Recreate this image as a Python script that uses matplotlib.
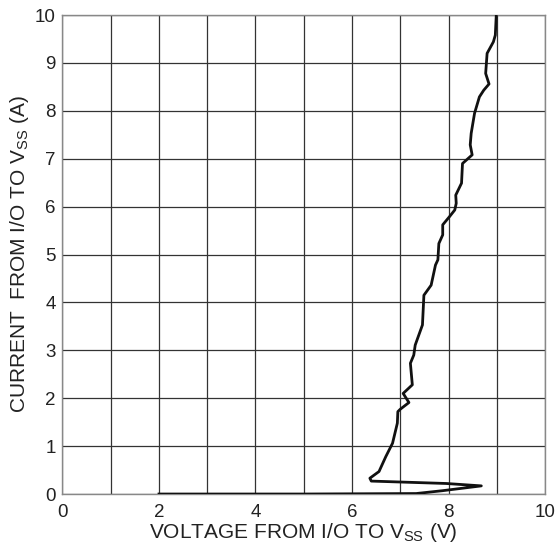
import matplotlib.pyplot as plt

plt.rcParams['font.family'] = ['Liberation Sans', 'DejaVu Sans']
plt.rcParams['mathtext.fontset'] = 'custom'
plt.rcParams['mathtext.rm'] = 'Liberation Sans'

# curve (voltage V, current A), in drawing order
voltage = [2.0, 5.0, 7.33, 7.88, 8.68, 7.95, 6.40, 6.37, 6.56, 6.70, 6.84, 6.94, 6.95,
           7.00, 7.18, 7.06, 7.25, 7.21, 7.28, 7.31, 7.46, 7.49, 7.64, 7.73, 7.78,
           7.80, 7.88, 7.88, 8.02, 8.13, 8.16, 8.15, 8.27, 8.29, 8.49, 8.45, 8.47,
           8.54, 8.64, 8.73, 8.84, 8.77, 8.80, 8.93, 8.97, 8.99]
current = [0.0, 0.0, 0.01, 0.07, 0.17, 0.22, 0.27, 0.33, 0.47, 0.78, 1.06, 1.48, 1.72,
           1.77, 1.91, 2.10, 2.28, 2.73, 2.90, 3.11, 3.53, 4.15, 4.36, 4.78, 4.89,
           5.23, 5.41, 5.62, 5.79, 5.93, 6.07, 6.24, 6.49, 6.90, 7.08, 7.29, 7.53,
           7.95, 8.29, 8.43, 8.56, 8.78, 9.20, 9.44, 9.58, 10.0]

x_ticks = list(range(11))
x_labels = ['0', '', '2', '', '4', '', '6', '', '8', '', '10']
y_ticks = list(range(11))

fig = plt.figure(figsize=(5.55, 5.46), dpi=100)
ax = fig.add_axes([0.1126, 0.0952, 0.8694, 0.8773])

ax.plot(voltage, current, color='#111111', linewidth=2.0, solid_joinstyle='round', zorder=3)

ax.set_xlim(0, 10)
ax.set_ylim(0, 10)
ax.set_xticks(x_ticks)
ax.set_xticklabels(x_labels)
ax.set_yticks(y_ticks)
ax.tick_params(length=0, labelsize=13.5, colors='#222222')
ax.tick_params(axis='x', pad=7)
ax.tick_params(axis='y', pad=5)
ax.grid(True, color='#333333', linewidth=0.9)
for s in ax.spines.values():
    s.set_color('#888888')
    s.set_linewidth(1.0)

ax.set_xlabel(r'VOLTAGE FROM I/O TO V$_{\mathrm{SS}}$ (V)', fontsize=15, color='#222222', labelpad=0)
ax.set_ylabel(r'CURRENT  FROM I/O TO V$_{\mathrm{SS}}$ (A)', fontsize=15, color='#222222', labelpad=3)

fig.savefig('out.png', dpi=100)
